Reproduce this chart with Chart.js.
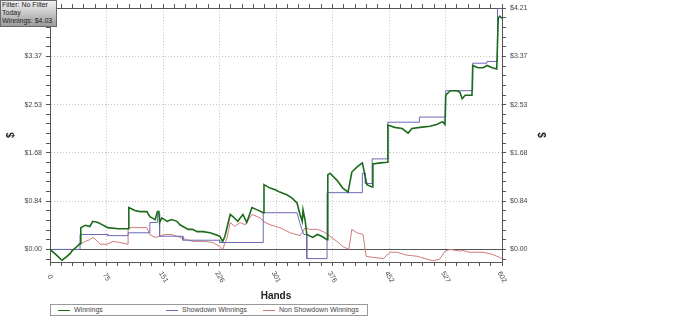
<!DOCTYPE html>
<html lang="en">
<head>
    <meta charset="UTF-8">
    <title>Winnings Graph</title>
    <script src="https://cdn.jsdelivr.net/npm/chart.js"></script>
    <style>
        body { margin: 0; background: #fff; overflow: hidden; }
        #wrap { position: relative; width: 700px; height: 332px; }
        #filterBox {
            position: absolute; left: 0; top: 0; width: 54px; height: 25px;
            border: 1px solid #6a6a6a;
            background: linear-gradient(#f0f0f0, #9c9c9c);
            font: 7px/8px "Liberation Sans", Arial, sans-serif; color: #222;
            padding-left: 1px; box-sizing: content-box;
        }
        #legendBox {
            position: absolute; left: 50px; top: 304px; width: 316px; height: 10px;
            border: 1px solid #999; background: #fff;
            font: 7px/10px "Liberation Sans", Arial, sans-serif; color: #444;
        }
        .item { position: absolute; top: 0; white-space: nowrap; }
        .item i { display: inline-block; width: 12px; height: 0; vertical-align: middle; margin-right: 4px; }
    </style>
</head>
<body>
<div id="wrap">
    <canvas id="graph" width="700" height="332"></canvas>
    <div id="filterBox">Filter: No Filter<br>Today<br>Winnings: $4.03</div>
    <div id="legendBox">
        <span class="item" style="left:7px"><i style="border-top:1px solid #1b6b1b"></i>Winnings</span>
        <span class="item" style="left:115px"><i style="border-top:1px solid #6a6ab8"></i>Showdown Winnings</span>
        <span class="item" style="left:212px"><i style="border-top:1px solid #d07a7a"></i>Non Showdown Winnings</span>
    </div>
</div>
<script>
    // hands / dollar values
    const winHands = [0,8,16,21,27,29,36,40,41,47,53,57,64,71,77,91,104,105,113,120,129,133,140,143,145,146,149,156,162,169,173,177,184,190,196,204,213,220,226,230,233,240,244,250,257,262,269,276,284,285,293,300,306,316,322,329,333,336,337,340,342,350,356,362,369,370,373,382,390,397,402,409,416,420,422,429,430,440,449,450,459,469,477,482,493,506,515,523,526,527,533,542,546,549,553,562,563,570,577,582,589,595,596,597,599,602];
    const winValues = [0,-0.09,-0.19,-0.14,-0.07,-0.03,0.05,0.10,0.38,0.42,0.40,0.49,0.47,0.42,0.38,0.36,0.36,0.73,0.68,0.66,0.66,0.57,0.52,0.66,0.66,0.47,0.55,0.49,0.52,0.49,0.43,0.40,0.35,0.35,0.31,0.31,0.29,0.26,0.23,0.14,0.23,0.61,0.57,0.49,0.61,0.47,0.73,0.69,0.64,1.13,1.07,1.04,1.00,0.95,0.90,0.81,0.61,0.49,0.69,0.49,0.26,0.21,0.26,0.23,0.17,1.30,1.33,1.21,1.07,1.00,1.35,1.44,1.51,1.26,1.13,1.09,1.49,1.51,1.52,2.17,2.13,2.11,2.03,2.11,2.13,2.15,2.18,2.23,2.18,2.69,2.77,2.77,2.74,2.63,2.69,2.69,3.21,3.17,3.17,3.21,3.17,3.15,3.60,4.04,4.07,4.03];

    const sdHands = [0,40,40,77,77,104,104,133,133,143,143,146,146,177,177,226,226,284,284,329,333,338,342,342,369,369,416,416,420,420,429,429,450,450,492,492,527,527,563,563,582,582,596,596,602];
    const sdValues = [0,0,0.26,0.26,0.24,0.24,0.29,0.29,0.47,0.47,0.62,0.62,0.23,0.23,0.16,0.16,0.12,0.12,0.64,0.64,0.45,0.26,0.26,-0.16,-0.16,0.99,0.99,1.33,1.33,1.15,1.15,1.58,1.58,2.22,2.22,2.31,2.31,2.77,2.77,3.25,3.25,3.28,3.28,4.21,4.21];

    const nsdHands = [0,8,16,21,27,29,36,40,47,53,57,61,67,76,84,93,104,104,116,129,133,140,146,153,162,173,182,190,204,217,226,230,236,240,246,253,260,269,280,284,293,306,320,333,340,346,356,364,373,382,390,398,402,409,417,421,430,444,453,462,475,489,502,510,519,526,533,546,550,559,577,590,599,602];
    const nsdValues = [0,-0.09,-0.19,-0.14,-0.07,-0.03,0.05,0.09,0.14,0.17,0.21,0.17,0.09,0.09,0.14,0.12,0.09,0.38,0.38,0.38,0.26,0.21,0.23,0.26,0.26,0.21,0.17,0.14,0.14,0.12,0.05,0.00,0.21,0.47,0.40,0.47,0.43,0.61,0.55,0.49,0.43,0.38,0.29,0.24,0.38,0.35,0.35,0.31,0.23,0.14,0.05,0.00,0.35,0.29,0.26,-0.12,-0.14,-0.16,-0.05,-0.05,-0.10,-0.12,-0.17,-0.20,-0.17,-0.03,0.00,-0.03,-0.02,-0.05,-0.05,-0.09,-0.14,-0.16];

    const xTickValues = [0,75,151,226,301,376,452,527,602];
    const xTickLabels = ['0','75','151','226','301','376','452','527','602'];
    const yTickLabels = ['$0.00','$0.84','$1.68','$2.53','$3.37','$4.21'];

    const HANDS = 602, YMAX = 4.21, YMIN = -0.22;
    const xStep = HANDS / 40, yStep = YMAX / 25;

    const toPoints = (hs, vs) => hs.map((h, i) => ({ x: h, y: vs[i] }));

    function xTicks(scale) {
        const t = [];
        for (let i = 0; i <= 40; i++) t.push({ value: i * xStep });
        scale.ticks = t;
    }
    function yTicks(scale) {
        const t = [];
        for (let i = -1; i <= 25; i++) t.push({ value: i * yStep });
        scale.ticks = t;
    }
    const isMajor = (v, step) => {
        const k = Math.round(v / step);
        return Math.abs(v / step - k) < 1e-6 && k % 5 === 0;
    };
    const yLabel = (v) => isMajor(v, yStep) && v >= 0 ? yTickLabels[Math.round(v / yStep) / 5] : '';

    Chart.defaults.font.family = '"Liberation Sans", Arial, sans-serif';
    Chart.defaults.font.size = 7;
    Chart.defaults.color = '#444';

    // zero line + rotated hand labels
    const extras = {
        id: 'extras',
        beforeDatasetsDraw(chart) {
            const { ctx, chartArea, scales } = chart;
            const y0 = Math.round(scales.y.getPixelForValue(0)) + 0.5;
            ctx.save();
            ctx.strokeStyle = '#555';
            ctx.lineWidth = 1;
            ctx.beginPath();
            ctx.moveTo(chartArea.left, y0);
            ctx.lineTo(chartArea.right, y0);
            ctx.stroke();
            ctx.restore();
        },
        afterDraw(chart) {
            const { ctx, scales } = chart;
            ctx.save();
            ctx.font = '7px "Liberation Sans", Arial, sans-serif';
            ctx.fillStyle = '#444';
            ctx.textAlign = 'center';
            ctx.textBaseline = 'middle';
            xTickValues.forEach((v, i) => {
                ctx.save();
                ctx.translate(scales.x.getPixelForValue(v), 277);
                ctx.rotate(Math.PI / 3);
                ctx.fillText(xTickLabels[i], 0, 0);
                ctx.restore();
            });
            ctx.restore();
        }
    };

    const gridX = {
        color: c => (isMajor(c.tick.value, xStep) && c.tick.value > 0 && c.tick.value < HANDS) ? '#c4c4c4' : 'rgba(0,0,0,0)',
        tickColor: '#555', tickLength: 4, lineWidth: 1
    };
    const gridY = {
        color: c => (isMajor(c.tick.value, yStep) && c.tick.value > 0.01) ? '#c4c4c4' : 'rgba(0,0,0,0)',
        tickColor: '#555', tickLength: 4, lineWidth: 1
    };

    new Chart(document.getElementById('graph'), {
        type: 'line',
        data: {
            datasets: [
                { label: 'Winnings', data: toPoints(winHands, winValues), borderColor: '#1b6b1b', borderWidth: 1.6 },
                { label: 'Showdown Winnings', data: toPoints(sdHands, sdValues), borderColor: '#6a6ab8', borderWidth: 1 },
                { label: 'Non Showdown Winnings', data: toPoints(nsdHands, nsdValues), borderColor: '#d07a7a', borderWidth: 1 }
            ]
        },
        options: {
            responsive: false,
            animation: false,
            devicePixelRatio: 1,
            parsing: false,
            elements: { point: { radius: 0 }, line: { tension: 0, fill: false } },
            layout: { padding: { left: 0, right: 148, top: 0, bottom: 30 } },
            plugins: { legend: { display: false }, tooltip: { enabled: false } },
            scales: {
                x: {
                    type: 'linear', position: 'bottom', min: 0, max: HANDS,
                    afterBuildTicks: xTicks,
                    afterFit: s => { s.height = 40; },
                    ticks: { display: false, autoSkip: false },
                    grid: gridX,
                    border: { color: '#555', dash: [1, 2] },
                    title: { display: true, text: 'Hands', color: '#222', font: { size: 10, weight: 'bold' }, padding: 0 }
                },
                xTop: {
                    type: 'linear', axis: 'x', position: 'top', min: 0, max: HANDS,
                    afterBuildTicks: xTicks,
                    afterFit: s => { s.height = 7; },
                    ticks: { display: false, autoSkip: false },
                    grid: { drawOnChartArea: false, tickColor: '#555', tickLength: 4 },
                    border: { color: '#555' }
                },
                y: {
                    type: 'linear', position: 'left', min: YMIN, max: YMAX,
                    afterBuildTicks: yTicks,
                    afterFit: s => { s.width = 50; },
                    ticks: { autoSkip: false, padding: 4, callback: yLabel },
                    grid: gridY,
                    border: { color: '#555', dash: [1, 2] },
                    title: { display: true, text: '$', color: '#222', font: { size: 10, weight: 'bold' }, padding: { top: 5, bottom: 0 } }
                },
                yR: {
                    type: 'linear', axis: 'y', position: 'right', min: YMIN, max: YMAX,
                    afterBuildTicks: yTicks,
                    afterFit: s => { s.width = 50; },
                    ticks: { autoSkip: false, padding: 4, callback: yLabel },
                    grid: { drawOnChartArea: false, tickColor: '#555', tickLength: 4 },
                    border: { color: '#555' },
                    title: { display: true, text: '$', color: '#222', font: { size: 10, weight: 'bold' }, padding: { top: 5, bottom: 0 } }
                }
            }
        },
        plugins: [extras]
    });
</script>
</body>
</html>
